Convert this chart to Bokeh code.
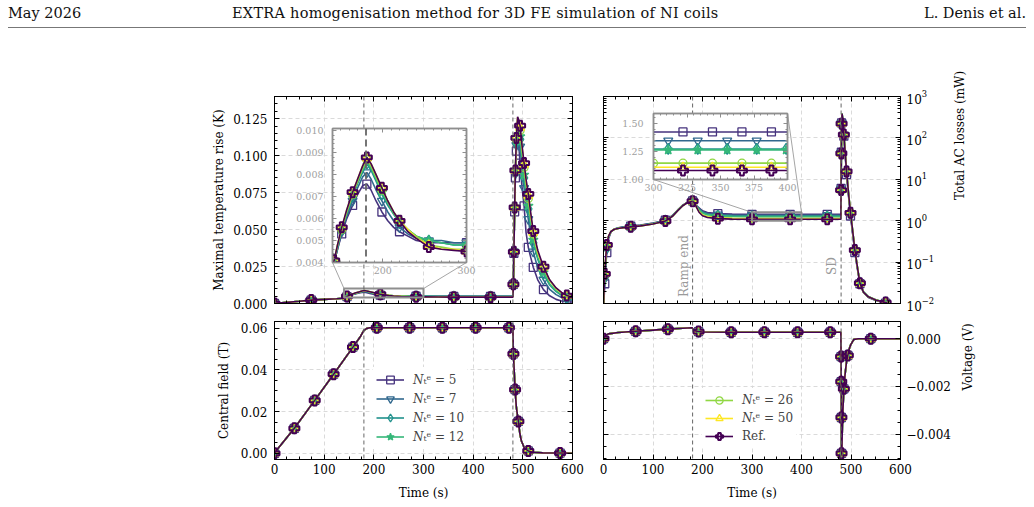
import math
from bokeh.plotting import figure
from bokeh.models import (Range1d, SingleIntervalTicker, LogTicker, LinearAxis, LogAxis, Span,
                          Label, Legend, LegendItem, PrintfTickFormatter, CustomJSTickFormatter, Div,
                          AllLabels)
from bokeh.embed import file_html
from bokeh.resources import INLINE

# ----------------------------- data -----------------------------
ramp_end_time = 180.0
shutdown_time = 480.0

series_keys = ["n5", "n7", "n10", "n12", "n26", "n50", "ref"]
series_labels = ["𝑁ₜᵉ = 5", "𝑁ₜᵉ = 7", "𝑁ₜᵉ = 10", "𝑁ₜᵉ = 12", "𝑁ₜᵉ = 26", "𝑁ₜᵉ = 50", "Ref."]

# maximal temperature rise (K)
t_temp = [0, 20, 50, 74, 100, 125,
          138, 142, 146, 151, 157, 164, 170, 176, 181, 186,
          192, 199, 206, 213, 220, 230, 240, 255, 270, 285,
          300, 330, 361, 400, 435, 470, 480,
          481, 482, 483.5, 485, 487, 489.5, 492, 494.5, 498, 502.5,
          506.5, 511, 516, 521, 530, 541.5, 554, 567, 578, 588.5, 600]
temp_n5 = [0.0, 0.0006, 0.0015, 0.0023, 0.0028, 0.0032,
           0.0036, 0.0040, 0.0046, 0.0053, 0.0060, 0.0066, 0.0071, 0.0075, 0.00757, 0.0073,
           0.0068, 0.0063, 0.0059, 0.0056, 0.0054, 0.0052, 0.0050, 0.0049, 0.0049, 0.0049,
           0.0049, 0.0048, 0.0048, 0.0048, 0.0048, 0.0048, 0.0048,
           0.013, 0.034, 0.062, 0.085, 0.103, 0.113, 0.106, 0.095, 0.080, 0.066,
           0.048, 0.038, 0.031, 0.0245, 0.016, 0.0094, 0.0052, 0.0028, 0.0017, 0.0012, 0.0010]
temp_n7 = [0.0, 0.0006, 0.0015, 0.0023, 0.0028, 0.0032,
           0.0036, 0.0040, 0.0046, 0.0054, 0.0061, 0.0068, 0.0074, 0.0079, 0.0081, 0.0078,
           0.0073, 0.0068, 0.0063, 0.0059, 0.0056, 0.0053, 0.0051, 0.0050, 0.0050, 0.0049,
           0.0049, 0.0048, 0.0048, 0.0048, 0.0048, 0.0048, 0.0048,
           0.013, 0.035, 0.064, 0.088, 0.107, 0.119, 0.113, 0.106, 0.092, 0.078,
           0.067, 0.057, 0.045, 0.035, 0.024, 0.016, 0.0095, 0.0060, 0.0041, 0.0029, 0.0022]
temp_n10 = [0.0, 0.0006, 0.0015, 0.0023, 0.0028, 0.0032,
            0.0036, 0.0041, 0.0047, 0.0055, 0.0062, 0.0070, 0.0076, 0.0081, 0.0085, 0.0082,
            0.0077, 0.0071, 0.0066, 0.0062, 0.0058, 0.0055, 0.0052, 0.0050, 0.0049, 0.0048,
            0.0048, 0.0047, 0.0047, 0.0047, 0.0047, 0.0047, 0.0047,
            0.013, 0.035, 0.065, 0.089, 0.109, 0.122, 0.117, 0.111, 0.098, 0.085,
            0.074, 0.064, 0.052, 0.041, 0.030, 0.020, 0.0125, 0.0080, 0.0056, 0.0040, 0.0031]
temp_n12 = [0.0, 0.0006, 0.0015, 0.0023, 0.0028, 0.0032,
            0.0036, 0.0041, 0.0047, 0.0055, 0.0063, 0.0071, 0.0077, 0.0082, 0.0086, 0.0083,
            0.0078, 0.0072, 0.0067, 0.0062, 0.0059, 0.0055, 0.0052, 0.0050, 0.0049, 0.0048,
            0.0048, 0.0047, 0.0047, 0.0047, 0.0047, 0.0047, 0.0047,
            0.013, 0.035, 0.065, 0.089, 0.110, 0.123, 0.119, 0.113, 0.100, 0.087,
            0.076, 0.066, 0.054, 0.043, 0.031, 0.021, 0.0132, 0.0085, 0.0060, 0.0043, 0.0033]
temp_n26 = [0.0, 0.0006, 0.0015, 0.0023, 0.0028, 0.0032,
            0.0036, 0.0041, 0.0048, 0.0055, 0.0063, 0.0071, 0.0077, 0.0083, 0.0087, 0.0084,
            0.0079, 0.0073, 0.0068, 0.0063, 0.0059, 0.0055, 0.0052, 0.0048, 0.0047, 0.0046,
            0.0046, 0.0045, 0.0045, 0.0045, 0.0045, 0.0045, 0.0045,
            0.013, 0.035, 0.065, 0.090, 0.111, 0.125, 0.122, 0.117, 0.105, 0.092,
            0.081, 0.071, 0.058, 0.047, 0.034, 0.024, 0.0152, 0.0099, 0.0070, 0.0050, 0.0039]
temp_n50 = [0.0, 0.0006, 0.0015, 0.0023, 0.0028, 0.0032,
            0.0036, 0.0041, 0.0048, 0.0056, 0.0064, 0.0072, 0.0078, 0.0084, 0.00875, 0.0085,
            0.0080, 0.0074, 0.0068, 0.0063, 0.0059, 0.0055, 0.0051, 0.0048, 0.0046, 0.0046,
            0.0045, 0.0044, 0.0044, 0.0044, 0.0044, 0.0044, 0.0044,
            0.013, 0.035, 0.065, 0.090, 0.112, 0.126, 0.1235, 0.119, 0.107, 0.094,
            0.083, 0.073, 0.060, 0.048, 0.035, 0.0245, 0.0157, 0.0103, 0.0073, 0.0053, 0.0041]
temp_ref = [0.0, 0.0006, 0.0015, 0.0023, 0.0028, 0.0032,
            0.0036, 0.0041, 0.0048, 0.0056, 0.0064, 0.0072, 0.0078, 0.0084, 0.00878, 0.0085,
            0.0080, 0.0074, 0.0068, 0.0063, 0.0059, 0.0054, 0.0051, 0.0047, 0.0046, 0.00455,
            0.0045, 0.0044, 0.0043, 0.0043, 0.0043, 0.0043, 0.0043,
            0.013, 0.035, 0.065, 0.090, 0.112, 0.1263, 0.124, 0.1203, 0.108, 0.095,
            0.084, 0.0741, 0.061, 0.049, 0.036, 0.0249, 0.016, 0.0105, 0.0075, 0.0054, 0.0042]

# total AC losses (mW)
t_loss = [0, 1, 2.6, 4.5, 6.7, 10, 15, 22, 32, 45, 55, 75, 100, 125, 140, 150, 160, 170, 180, 184, 188,
          193, 200, 210, 231, 260, 300, 311, 322, 333, 344, 355, 366, 377, 388, 399, 420, 452, 479.5,
          480, 480.5, 481, 482, 483.5, 485.6, 488, 491, 495, 499, 503.5, 507.8, 513, 518, 525, 535,
          550, 570, 585, 600]
loss_n5 = [0.006, 0.012, 0.03, 0.08, 0.17, 0.36, 0.53, 0.63, 0.68, 0.72, 0.74, 0.79, 0.88, 1.03,
           1.36, 1.82, 2.38, 2.82, 3.0, 2.8, 2.3,
           2.05, 1.74, 1.58, 1.48, 1.44, 1.425, 1.425, 1.425, 1.425, 1.425, 1.425, 1.425, 1.425,
           1.425, 1.425, 1.425, 1.425, 1.425,
           6.0, 45, 230, 390, 250, 110, 42, 13, 3.9, 1.3, 0.46, 0.17, 0.068, 0.030, 0.0185,
           0.014, 0.0118, 0.0102, 0.0090, 0.0083]
loss_n7 = [0.007, 0.015, 0.04, 0.10, 0.21, 0.39, 0.54, 0.63, 0.67, 0.71, 0.73, 0.77, 0.86, 1.01,
           1.34, 1.80, 2.35, 2.80, 2.98, 2.78, 2.25,
           1.96, 1.64, 1.49, 1.40, 1.36, 1.346, 1.346, 1.346, 1.346, 1.346, 1.346, 1.346, 1.346,
           1.346, 1.346, 1.346, 1.346, 1.346,
           5.8, 44, 228, 388, 255, 115, 45, 14.3, 4.2, 1.42, 0.50, 0.18, 0.071, 0.031, 0.019,
           0.0143, 0.0120, 0.0104, 0.0091, 0.0084]
loss_n10 = [0.007, 0.017, 0.045, 0.11, 0.23, 0.40, 0.545, 0.625, 0.665, 0.70, 0.72, 0.76, 0.85, 1.0,
            1.32, 1.78, 2.33, 2.78, 2.97, 2.75, 2.2,
            1.86, 1.55, 1.41, 1.32, 1.285, 1.273, 1.273, 1.273, 1.273, 1.273, 1.273, 1.273, 1.273,
            1.273, 1.273, 1.273, 1.273, 1.273,
            5.7, 43, 225, 385, 262, 122, 49, 16, 4.8, 1.6, 0.56, 0.20, 0.077, 0.032, 0.0195,
            0.0147, 0.0123, 0.0106, 0.0093, 0.0086]
loss_n12 = [0.007, 0.018, 0.047, 0.115, 0.235, 0.405, 0.548, 0.622, 0.662, 0.695, 0.715, 0.755, 0.845,
            0.995, 1.31, 1.77, 2.32, 2.77, 2.96, 2.74, 2.18,
            1.85, 1.54, 1.40, 1.31, 1.277, 1.265, 1.265, 1.265, 1.265, 1.265, 1.265, 1.265, 1.265,
            1.265, 1.265, 1.265, 1.265, 1.265,
            5.6, 43, 223, 383, 261, 121, 48.5, 15.8, 4.7, 1.58, 0.555, 0.198, 0.076, 0.0315, 0.0192,
            0.0146, 0.0123, 0.0106, 0.0093, 0.0086]
loss_n26 = [0.008, 0.019, 0.05, 0.125, 0.25, 0.415, 0.55, 0.62, 0.66, 0.69, 0.71, 0.75, 0.835, 0.985,
            1.30, 1.76, 2.31, 2.76, 2.95, 2.72, 2.12,
            1.69, 1.40, 1.27, 1.19, 1.157, 1.146, 1.146, 1.146, 1.146, 1.146, 1.146, 1.146, 1.146,
            1.146, 1.146, 1.146, 1.146, 1.146,
            5.5, 42, 221, 381, 260, 120, 48, 15.6, 4.65, 1.56, 0.552, 0.196, 0.075, 0.031, 0.019,
            0.0145, 0.0122, 0.0105, 0.0092, 0.0085]
loss_n50 = [0.008, 0.02, 0.052, 0.13, 0.26, 0.42, 0.55, 0.62, 0.66, 0.69, 0.71, 0.75, 0.83, 0.98,
            1.30, 1.75, 2.30, 2.75, 2.95, 2.70, 2.1,
            1.64, 1.355, 1.23, 1.155, 1.12, 1.11, 1.11, 1.11, 1.11, 1.11, 1.11, 1.11, 1.11,
            1.11, 1.11, 1.11, 1.11, 1.11,
            5.5, 42, 220, 380, 260, 120, 48, 15.5, 4.6, 1.55, 0.55, 0.195, 0.075, 0.031, 0.019,
            0.0145, 0.0122, 0.0105, 0.0092, 0.0085]
loss_ref = [0.008, 0.02, 0.052, 0.13, 0.26, 0.42, 0.55, 0.62, 0.66, 0.69, 0.71, 0.75, 0.83, 0.98,
            1.30, 1.75, 2.30, 2.75, 2.95, 2.70, 2.1,
            1.60, 1.32, 1.20, 1.12, 1.09, 1.08, 1.08, 1.08, 1.08, 1.08, 1.08, 1.08, 1.08,
            1.08, 1.08, 1.08, 1.08, 1.08,
            5.5, 42, 220, 380, 260, 120, 48, 15.5, 4.6, 1.55, 0.55, 0.195, 0.075, 0.031, 0.019,
            0.0145, 0.0122, 0.0105, 0.0092, 0.0085]

# central field (T) -- identical for all discretisations at this scale
t_field = [0, 5, 40, 81, 119, 158, 172, 180, 186, 192, 200, 206, 272, 338, 405, 472, 480, 481,
           484.4, 487, 491, 494, 497, 503, 511, 520, 540, 575, 600]
field = [0.0, 0.0017, 0.012, 0.0254, 0.038, 0.051, 0.0557, 0.059, 0.060, 0.0603, 0.0603, 0.0603,
         0.0603, 0.0603, 0.0603, 0.0603, 0.0598, 0.0477, 0.0306, 0.022, 0.0153, 0.0095, 0.006,
         0.0025, 0.0011, 0.0005, 0.0002, 0.0001, 0.0]

# voltage (V)
t_volt = [0, 3, 10, 30, 65, 100, 130, 160, 179, 181, 186, 192, 200, 258, 325, 392, 458, 479.5,
          480, 480.3, 480.6, 480.9, 481.3, 483, 485.6, 488, 491, 493.6, 496, 499, 505.8, 515, 540,
          570, 600]
volt = [0.0, 0.00012, 0.0002, 0.00026, 0.00031, 0.00036, 0.0004, 0.00044, 0.00046, 0.00038,
        0.00032, 0.0003, 0.00028, 0.00027, 0.00027, 0.00027, 0.00027, 0.00027,
        -0.00075, -0.0018, -0.0033, -0.0048, -0.0049, -0.0033, -0.0021, -0.0015, -0.00096,
        -0.0007, -0.00045, -0.00027, -0.00003, 0.0, 0.0, 0.0, 0.0]

# marker positions (times)
temp_markers = [0, 74, 146, 213, 285, 361, 435, 481, 482, 483.5, 485, 487, 494.5, 502.5, 511,
                521, 541.5, 588.5]
temp_inset_markers = [142, 151, 164, 181, 199, 220, 255, 300]
loss_markers = [2.6, 6.7, 55, 125, 180, 231, 300, 377, 452, 480, 480.5, 481, 485.6, 491, 499,
                507.8, 518, 570]
loss_inset_markers = {"n5": [322, 344, 366, 388], "n7": [311, 333, 355, 377],
                      "n10": [311, 333, 355, 377, 399], "n12": [311, 333, 355, 377, 399],
                      "n26": [300, 322, 344, 366, 388], "n50": [322, 344, 366, 388],
                      "ref": [322, 344, 366, 388]}
field_markers = [0, 40, 81, 119, 158, 206, 272, 338, 405, 472, 481, 484.4, 491, 511, 575]
volt_markers = [0, 65, 130, 192, 258, 325, 392, 458, 480, 480.3, 480.6, 480.9, 485.6, 493.6, 540]

temp_zoom_t = (140, 300)
temp_zoom_y = (0.004, 0.0101)
loss_zoom_t = (300, 400)
loss_zoom_y = (1.0, 1.59)

temp_series = dict(zip(series_keys, [temp_n5, temp_n7, temp_n10, temp_n12, temp_n26, temp_n50, temp_ref]))
loss_series = dict(zip(series_keys, [loss_n5, loss_n7, loss_n10, loss_n12, loss_n26, loss_n50, loss_ref]))

# ----------------------------- style -----------------------------
FONT = "DejaVu Serif"
COLORS = {"n5": "#46337e", "n7": "#31688e", "n10": "#21918c", "n12": "#35b779",
          "n26": "#90d743", "n50": "#fde725", "ref": "#440154"}
MARKERS = {"n5": ("square", False, 8), "n7": ("inverted_triangle", False, 9),
           "n10": ("diamond", False, 11), "n12": ("star", True, 10), "n26": ("circle", False, 8),
           "n50": ("triangle", False, 9), "ref": ("plus", False, 10)}
GRID = "#d6d6d6"
INSET = "#8e8e8e"
INSET_TXT = "#a0a0a0"
EMPTY = CustomJSTickFormatter(code="return '';")

# frames on the page (x, y, w, h)
TL = (274, 96, 298, 207)
TR = (603, 96, 297, 207)
BL = (274, 321, 298, 138)
BR = (603, 321, 297, 138)
TLI = (332, 128, 134, 134)
TRI = (653, 113, 134, 66)


def make_fig(frame, borders, x_range, y_range, y_type="linear", y_side="left", inset=False):
    x0, y0, fw, fh = frame
    bl, bt, br, bb = borders
    p = figure(frame_width=fw, frame_height=fh, x_range=x_range, y_range=y_range,
               y_axis_type=y_type, y_axis_location=y_side, toolbar_location=None, tools="",
               output_backend="svg", min_border_left=bl, min_border_top=bt,
               min_border_right=br, min_border_bottom=bb, background_fill_color="white",
               border_fill_alpha=0, outline_line_color=INSET if inset else "black",
               outline_line_width=1.5 if inset else 1)
    p.styles = {"position": "absolute", "left": f"{x0 - bl}px", "top": f"{y0 - bt}px"}
    return p


def style_axis(ax, ticker, labels=True, fmt=None, inset=False, standoff=6):
    col = INSET if inset else "black"
    ax.ticker = ticker
    ax.major_tick_in = 4 if inset else 5
    ax.major_tick_out = 0
    ax.minor_tick_in = 2 if inset else 3
    ax.minor_tick_out = 0
    ax.axis_line_color = col
    ax.axis_line_width = 1.5 if inset else 1
    ax.major_tick_line_color = col
    ax.minor_tick_line_color = col
    ax.major_label_text_font = FONT
    ax.axis_label_text_font = FONT
    ax.axis_label_text_font_style = "normal"
    ax.axis_label_text_font_size = "12px"
    ax.axis_label_text_color = "black"
    ax.major_label_text_font_size = "9.5px" if inset else "12px"
    ax.major_label_text_color = INSET_TXT if inset else "black"
    ax.major_label_policy = AllLabels()
    if labels:
        ax.major_label_standoff = standoff
        if fmt is not None:
            ax.formatter = fmt
    else:
        ax.major_label_standoff = 0
        ax.formatter = EMPTY


def right_label_upward(ax):
    # make a right-hand axis label read bottom-to-top, like the left-hand ones
    try:
        ax.axis_label_orientation = math.pi / 2
    except Exception:
        pass


def style_grid(p, xt, yt):
    for g, t in ((p.xgrid[0], xt), (p.ygrid[0], yt)):
        g.ticker = t
        g.grid_line_color = GRID
        g.grid_line_dash = "4 3"
        g.grid_line_width = 0.9


def add_spans(p):
    for loc in (ramp_end_time, shutdown_time):
        p.add_layout(Span(location=loc, dimension="height", line_color="#666666",
                          line_dash="4 3", line_width=1))


def draw(p, t, y, mk_t, key):
    color = COLORS[key]
    marker, filled, size = MARKERS[key]
    lr = p.line(t, y, line_color=color, line_width=1.6)
    idx = [t.index(m) for m in mk_t]
    sr = p.scatter([t[i] for i in idx], [y[i] for i in idx], marker=marker, size=size,
                   line_color=color, line_width=2.0 if key == "ref" else 1.3,
                   fill_color=color if filled else None)
    return lr, sr


x_tick = SingleIntervalTicker(interval=100, num_minor_ticks=4)

# ---------------- top-left: temperature ----------------
tl = make_fig(TL, (100, 30, 30, 30), Range1d(0, 600), Range1d(0, 0.14))
tl_y = SingleIntervalTicker(interval=0.025, num_minor_ticks=5)
style_axis(tl.yaxis[0], tl_y, fmt=PrintfTickFormatter(format="%.3f"), standoff=7)
tl.yaxis[0].axis_label = "Maximal temperature rise (K)"
tl.yaxis[0].axis_label_standoff = 4
style_axis(tl.xaxis[0], x_tick, labels=False)
ax = LinearAxis(); style_axis(ax, tl_y, labels=False); tl.add_layout(ax, "right")
ax = LinearAxis(); style_axis(ax, x_tick, labels=False); tl.add_layout(ax, "above")
style_grid(tl, x_tick, tl_y)
add_spans(tl)
for k in series_keys:
    draw(tl, t_temp, temp_series[k], temp_markers, k)
tl.quad(left=temp_zoom_t[0], right=temp_zoom_t[1], bottom=temp_zoom_y[0], top=temp_zoom_y[1],
        fill_alpha=0, line_color=INSET, line_width=2)


def tl_page_to_data(px, py):
    x0, y0, w, h = TL
    return (px - x0) / w * 600.0, (y0 + h - py) / h * 0.14


for (rx, ry), (px, py) in (((temp_zoom_t[0], temp_zoom_y[1]), (TLI[0], TLI[1] + TLI[3])),
                           ((temp_zoom_t[1], temp_zoom_y[1]), (TLI[0] + TLI[2], TLI[1] + TLI[3]))):
    dx, dy = tl_page_to_data(px, py)
    tl.line([rx, dx], [ry, dy], line_color=INSET, line_width=0.8)

# ---------------- top-right: AC losses ----------------
tr = make_fig(TR, (30, 30, 100, 30), Range1d(0, 600), Range1d(0.01, 1000), y_type="log", y_side="right")
tr_y = LogTicker(num_minor_ticks=10)
style_axis(tr.yaxis[0], tr_y, standoff=6)
tr.yaxis[0].axis_label = "Total AC losses (mW)"
tr.yaxis[0].axis_label_standoff = 23
right_label_upward(tr.yaxis[0])
style_axis(tr.xaxis[0], x_tick, labels=False)
ax = LogAxis(); style_axis(ax, tr_y, labels=False); tr.add_layout(ax, "left")
ax = LinearAxis(); style_axis(ax, x_tick, labels=False); tr.add_layout(ax, "above")
style_grid(tr, x_tick, tr_y)
add_spans(tr)
for k in series_keys:
    draw(tr, t_loss, loss_series[k], loss_markers, k)
tr.quad(left=loss_zoom_t[0], right=loss_zoom_t[1], bottom=loss_zoom_y[0], top=loss_zoom_y[1],
        fill_alpha=0, line_color=INSET, line_width=2)
label_y = 0.08
for xloc, txt in ((ramp_end_time, "Ramp end"), (shutdown_time, "SD")):
    tr.add_layout(Label(x=xloc, y=label_y, x_offset=-2, text=txt, angle=math.pi / 2,
                        text_align="center", text_baseline="bottom", text_font=FONT,
                        text_font_size="12px", text_color="#9a9a9a"))


def tr_page_to_data(px, py):
    x0, y0, w, h = TR
    return (px - x0) / w * 600.0, 10 ** (3 - (py - y0) / h * 5)


for (rx, ry), (px, py) in (((loss_zoom_t[0], loss_zoom_y[1]), (TRI[0], TRI[1] + TRI[3])),
                           ((loss_zoom_t[1], loss_zoom_y[1]), (TRI[0] + TRI[2], TRI[1]))):
    dx, dy = tr_page_to_data(px, py)
    tr.line([rx, dx], [ry, dy], line_color=INSET, line_width=0.8)

# ---------------- bottom-left: central field ----------------
bl = make_fig(BL, (100, 30, 30, 48), Range1d(0, 600), Range1d(-0.003, 0.0633))
bl_y = SingleIntervalTicker(interval=0.02, num_minor_ticks=4)
style_axis(bl.yaxis[0], bl_y, fmt=PrintfTickFormatter(format="%.2f"), standoff=7)
bl.yaxis[0].axis_label = "Central field (T)"
bl.yaxis[0].axis_label_standoff = 7
style_axis(bl.xaxis[0], x_tick, standoff=4)
bl.xaxis[0].axis_label = "Time (s)"
bl.xaxis[0].axis_label_standoff = 9
ax = LinearAxis(); style_axis(ax, bl_y, labels=False); bl.add_layout(ax, "right")
ax = LinearAxis(); style_axis(ax, x_tick, labels=False); bl.add_layout(ax, "above")
style_grid(bl, x_tick, bl_y)
add_spans(bl)
bl_items = []
for k, lab in zip(series_keys, series_labels):
    rs = draw(bl, t_field, field, field_markers, k)
    if k in ("n5", "n7", "n10", "n12"):
        bl_items.append(LegendItem(label=lab, renderers=list(rs)))

# ---------------- bottom-right: voltage ----------------
br = make_fig(BR, (30, 30, 100, 48), Range1d(0, 600), Range1d(-0.00506, 0.00072), y_side="right")
br_y = SingleIntervalTicker(interval=0.002, num_minor_ticks=4)
volt_fmt = CustomJSTickFormatter(code="if (Math.abs(tick) < 1e-9) { return '0.000'; } "
                                      "return tick.toFixed(3).replace('-', '\\u2212');")
style_axis(br.yaxis[0], br_y, fmt=volt_fmt, standoff=6)
br.yaxis[0].axis_label = "Voltage (V)"
br.yaxis[0].axis_label_standoff = 14
right_label_upward(br.yaxis[0])
style_axis(br.xaxis[0], x_tick, standoff=4)
br.xaxis[0].axis_label = "Time (s)"
br.xaxis[0].axis_label_standoff = 9
ax = LinearAxis(); style_axis(ax, br_y, labels=False); br.add_layout(ax, "left")
ax = LinearAxis(); style_axis(ax, x_tick, labels=False); br.add_layout(ax, "above")
style_grid(br, x_tick, br_y)
add_spans(br)
br_items = []
for k, lab in zip(series_keys, series_labels):
    rs = draw(br, t_volt, volt, volt_markers, k)
    if k in ("n26", "n50", "ref"):
        br_items.append(LegendItem(label=lab, renderers=list(rs)))


def make_legend(items, loc, gh):
    return Legend(items=items, location=loc, orientation="vertical",
                  background_fill_color="white", background_fill_alpha=1.0,
                  border_line_alpha=0, padding=3, spacing=0, margin=0,
                  glyph_width=28, glyph_height=gh, label_height=gh, label_standoff=9,
                  label_text_font=FONT, label_text_font_size="12px")


bl.add_layout(make_legend(bl_items, (99, 10), 19))
br.add_layout(make_legend(br_items, (99, 11), 18))

# ---------------- inset top-left ----------------
tli = make_fig(TLI, (45, 25, 25, 25), Range1d(*temp_zoom_t), Range1d(*temp_zoom_y), inset=True)
tli_x = SingleIntervalTicker(interval=100, num_minor_ticks=10)
tli_y = SingleIntervalTicker(interval=0.001, num_minor_ticks=5)
style_axis(tli.xaxis[0], tli_x, inset=True, standoff=4)
style_axis(tli.yaxis[0], tli_y, inset=True, fmt=PrintfTickFormatter(format="%.3f"), standoff=9)
ax = LinearAxis(); style_axis(ax, tli_y, labels=False, inset=True); tli.add_layout(ax, "right")
ax = LinearAxis(); style_axis(ax, tli_x, labels=False, inset=True); tli.add_layout(ax, "above")
tli.xgrid.visible = False
tli.ygrid.visible = False
tli.add_layout(Span(location=ramp_end_time, dimension="height", line_color="#666666",
                    line_dash="7 4", line_width=1.8))
for k in series_keys:
    draw(tli, t_temp, temp_series[k], temp_inset_markers, k)

# ---------------- inset top-right ----------------
tri = make_fig(TRI, (40, 25, 25, 25), Range1d(*loss_zoom_t), Range1d(*loss_zoom_y), inset=True)
tri_x = SingleIntervalTicker(interval=25, num_minor_ticks=5)
tri_y = SingleIntervalTicker(interval=0.25, num_minor_ticks=5)
style_axis(tri.xaxis[0], tri_x, inset=True, standoff=4)
style_axis(tri.yaxis[0], tri_y, inset=True, fmt=PrintfTickFormatter(format="%.2f"), standoff=10)
ax = LinearAxis(); style_axis(ax, tri_y, labels=False, inset=True); tri.add_layout(ax, "right")
ax = LinearAxis(); style_axis(ax, tri_x, labels=False, inset=True); tri.add_layout(ax, "above")
tri.xgrid.visible = False
tri.ygrid.visible = False
for k in series_keys:
    draw(tri, t_loss, loss_series[k], loss_inset_markers[k], k)

# ---------------- page header ----------------
header_html = (
    '<div style="position:relative;width:1034px;height:32px;font-family:\'DejaVu Serif\';'
    'font-size:14.5px;color:#111;">'
    '<span style="position:absolute;left:8px;top:3px;white-space:nowrap;">May 2026</span>'
    '<span style="position:absolute;left:232px;top:3px;white-space:nowrap;letter-spacing:0.25px;">'
    'EXTRA homogenisation method for 3D FE simulation of NI coils</span>'
    '<span style="position:absolute;right:8px;top:3px;white-space:nowrap;">L. Denis et al.</span>'
    '<div style="position:absolute;left:8px;right:8px;top:27px;border-top:1px solid #777;"></div>'
    '</div>')
header = Div(text=header_html, width=1034, height=32, margin=0,
             styles={"position": "absolute", "left": "0px", "top": "0px"})

# independent roots (no frame alignment between them), stacked in this order
p = [header, tl, tr, bl, br, tli, tri]

open("out.html", "w").write(file_html(p, INLINE))
